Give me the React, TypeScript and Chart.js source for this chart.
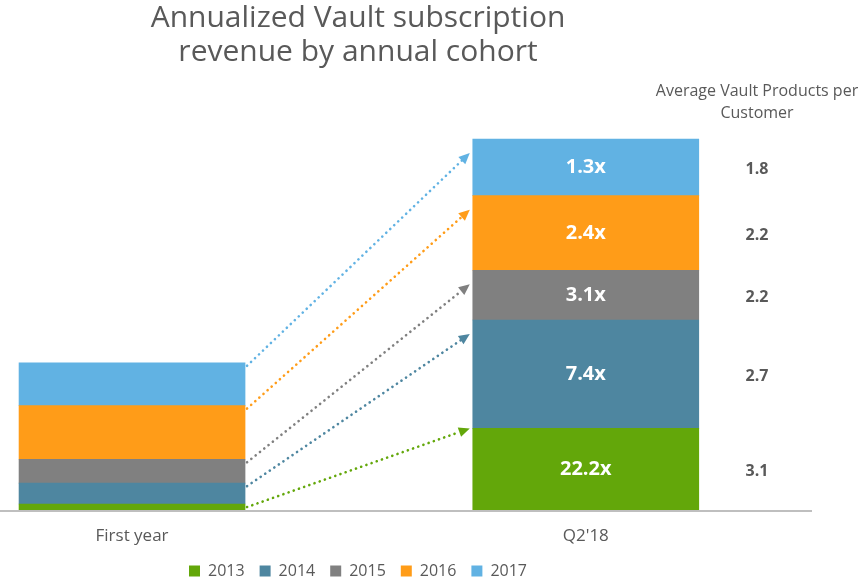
import React, { useEffect, useRef } from "react";
import { Chart, registerables } from "chart.js";

Chart.register(...registerables);

const categories = ["First year", "Q2'18"];
const cohorts = ["2013", "2014", "2015", "2016", "2017"];
const firstYearRevenue = [6, 21, 24, 54, 43];
const q218Revenue = [82, 109, 50, 75, 57];
const growthLabels = ["22.2x", "7.4x", "3.1x", "2.4x", "1.3x"];
const avgProducts = ["3.1", "2.7", "2.2", "2.2", "1.8"];
const sideTitle = ["Average Vault Products per", "Customer"];
const chartTitle = ["Annualized Vault subscription", "revenue by annual cohort"];

const palette = ["#63A70A", "#4E86A0", "#808080", "#FF9C18", "#61B2E3"];
const FONT = "'Open Sans', 'Noto Sans', sans-serif";
const GREY = "#595959";

const overlayPlugin = {
  id: "overlay",
  beforeDatasetsDraw(chart: any) {
    const { ctx, chartArea, scales } = chart;
    const y0 = scales.y.getPixelForValue(0);
    ctx.save();
    ctx.strokeStyle = "#BFBFBF";
    ctx.lineWidth = 2;
    ctx.beginPath();
    ctx.moveTo(0, y0 + 1);
    ctx.lineTo(chartArea.right + 96, y0 + 1);
    ctx.stroke();
    ctx.restore();
  },
  afterDatasetsDraw(chart: any) {
    const { ctx, chartArea } = chart;
    ctx.save();
    const n = chart.data.datasets.length;
    for (let i = 0; i < n; i++) {
      const meta = chart.getDatasetMeta(i);
      const a = meta.data[0] as any;
      const b = meta.data[1] as any;
      const color = palette[i];
      // arrow
      const x1 = a.x + a.width / 2 + 2;
      const y1 = a.y + 3;
      const x2 = b.x - b.width / 2 - 3;
      const y2 = b.y + (i === 0 ? 0 : 14);
      const ang = Math.atan2(y2 - y1, x2 - x1);
      const head = 11;
      const cx = Math.cos(ang), cy = Math.sin(ang);
      ctx.strokeStyle = color;
      ctx.fillStyle = color;
      ctx.lineWidth = 2.6;
      ctx.lineCap = "round";
      ctx.setLineDash([0.1, 5.4]);
      ctx.beginPath();
      ctx.moveTo(x1, y1);
      ctx.lineTo(x2 - cx * head, y2 - cy * head);
      ctx.stroke();
      ctx.setLineDash([]);
      ctx.beginPath();
      ctx.moveTo(x2, y2);
      ctx.lineTo(x2 - cx * head - cy * 5, y2 - cy * head + cx * 5);
      ctx.lineTo(x2 - cx * head + cy * 5, y2 - cy * head - cx * 5);
      ctx.closePath();
      ctx.fill();
      // label inside Q2'18 bar
      const midY = (b.y + b.base) / 2;
      ctx.fillStyle = "#FFFFFF";
      ctx.font = `bold 20px ${FONT}`;
      ctx.textAlign = "center";
      ctx.textBaseline = "middle";
      ctx.fillText(growthLabels[i], b.x, midY);
      // side value
      ctx.fillStyle = GREY;
      ctx.font = `bold 16px ${FONT}`;
      ctx.fillText(avgProducts[i], chartArea.right + 41, midY + 2);
    }
    ctx.fillStyle = GREY;
    ctx.font = `16px ${FONT}`;
    ctx.textAlign = "center";
    ctx.textBaseline = "middle";
    sideTitle.forEach((t, k) => {
      ctx.fillText(t, chartArea.right + 41, 91 + k * 22);
    });
    ctx.restore();
  },
};

export default function App() {
  const ref = useRef<HTMLCanvasElement | null>(null);
  useEffect(() => {
    if (!ref.current) return;
    const chart = new Chart(ref.current, {
      type: "bar",
      data: {
        datasets: cohorts.map((c, i) => ({
          label: c,
          data: [
            { x: 0, y: firstYearRevenue[i] },
            { x: 1, y: q218Revenue[i] },
          ],
          backgroundColor: palette[i],
          borderWidth: 0,
          barThickness: 226,
        })),
      },
      options: {
        animation: false,
        responsive: true,
        maintainAspectRatio: false,
        layout: { padding: { left: 0, right: 150, top: 0, bottom: -6 } },
        scales: {
          x: {
            type: "linear",
            stacked: true,
            offset: false,
            min: -0.291,
            max: 1.287,
            grid: { display: false, drawTicks: false },
            border: { display: false },
            afterBuildTicks: (scale: any) => {
              scale.ticks = categories.map((_, i) => ({ value: i }));
            },
            afterFit: (scale: any) => {
              scale.height = 38;
            },
            ticks: {
              autoSkip: false,
              maxRotation: 0,
              padding: 16,
              color: GREY,
              font: { family: FONT, size: 17, lineHeight: 1.2 },
              callback: (v: any) => categories[v as number] ?? "",
            },
          },
          y: {
            display: false,
            stacked: true,
            min: 0,
            max: 412,
          },
        },
        plugins: {
          title: {
            display: true,
            text: chartTitle,
            fullSize: false,
            color: GREY,
            font: { family: FONT, size: 30, weight: "normal", lineHeight: 1.12 },
            padding: { top: 2, bottom: 31 },
          },
          legend: {
            display: true,
            position: "bottom",
            fullSize: false,
            labels: {
              boxWidth: 11,
              boxHeight: 11,
              padding: 15,
              color: GREY,
              font: { family: FONT, size: 16 },
            },
          },
          tooltip: { enabled: false },
        },
      },
      plugins: [overlayPlugin],
    } as any);
    return () => chart.destroy();
  }, []);
  return (
    <div style={{ position: "absolute", left: 0, top: 0, width: 866, height: 583 }}>
      <canvas ref={ref} />
    </div>
  );
}
